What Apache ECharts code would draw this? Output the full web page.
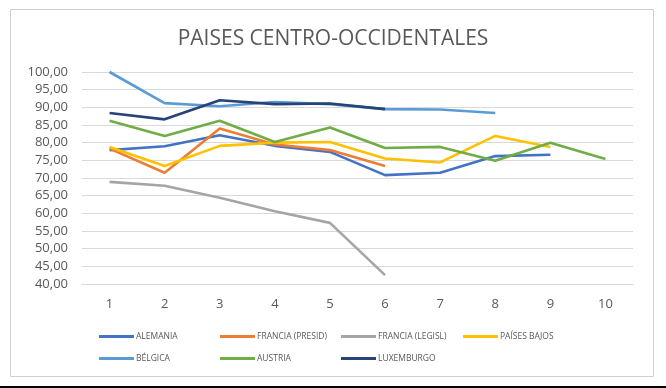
<!DOCTYPE html>
<html><head><meta charset="utf-8">
<script src="https://cdn.jsdelivr.net/npm/echarts@6/dist/echarts.min.js"></script>
<style>html,body{margin:0;padding:0;background:#fff}#c{width:666px;height:388px}</style>
</head><body><div id="c"></div>
<script>
var categories = ['1','2','3','4','5','6','7','8','9','10'];
var seriesNames = ['ALEMANIA','FRANCIA (PRESID)','FRANCIA (LEGISL)','PAÍSES BAJOS','BÉLGICA','AUSTRIA','LUXEMBURGO'];
var alemania = [77.9, 79.0, 82.1, 79.1, 77.4, 70.8, 71.5, 76.2, 76.6, null];
var franciaPresid = [78.3, 71.5, 84.0, 79.5, 77.9, 73.4, null, null, null, null];
var franciaLegisl = [68.9, 67.8, 64.4, 60.6, 57.3, 42.5, null, null, null, null];
var paisesBajos = [78.8, 73.4, 79.1, 80.0, 80.2, 75.5, 74.4, 81.9, 78.8, null];
var belgica = [100.0, 91.2, 90.3, 91.5, 90.9, 89.5, 89.4, 88.4, null, null];
var austria = [86.2, 81.9, 86.2, 80.2, 84.3, 78.5, 78.8, 74.9, 80.0, 75.4];
var luxemburgo = [88.4, 86.6, 92.0, 90.9, 91.1, 89.5, null, null, null, null];
var yTicks = {min: 40, max: 100, interval: 5};

var colors = ['#4472C4','#ED7D31','#A5A5A5','#FFC000','#5B9BD5','#70AD47','#264478'];
var dataArr = [alemania, franciaPresid, franciaLegisl, paisesBajos, belgica, austria, luxemburgo];
var legendPos = [[94,327],[215,327],[336,327],[458,327],[94,349],[215,349],[336,349]];

var chart = echarts.init(document.getElementById('c'));
var series = seriesNames.map(function(n,i){
  return {name:n, type:'line', data:dataArr[i], showSymbol:false, symbol:'none',
    lineStyle:{width:2.6, color:colors[i]}, itemStyle:{color:colors[i]}, connectNulls:false, z: (i===6?5:2)};
});
var legends = seriesNames.map(function(n,i){
  return {data:[{name:n, icon:'rect'}], left:legendPos[i][0], top:legendPos[i][1], itemWidth:35, itemHeight:3, itemGap:0,
    textStyle:{fontSize:8.5, color:'#595959', fontFamily:'Liberation Sans Narrow, Open Sans, sans-serif', padding:[0,0,0,-3]}};
});
chart.setOption({
  animation:false,
  backgroundColor:'#fff',
  title:{text:'PAISES CENTRO-OCCIDENTALES', left:'center', top:24,
    textStyle:{fontSize:21, fontWeight:'normal', color:'#595959', fontFamily:'Open Sans, sans-serif'}},
  legend: legends,
  grid:{left:82, right:33, top:72, bottom:104, containLabel:false},
  xAxis:{type:'category', data:categories, boundaryGap:true,
    axisLine:{show:true, lineStyle:{color:'#D9D9D9'}}, axisTick:{show:false},
    axisLabel:{fontSize:13, color:'#595959', margin:14, fontFamily:'Open Sans, sans-serif'}},
  yAxis:{type:'value', min:yTicks.min, max:yTicks.max, interval:yTicks.interval,
    axisLine:{show:false}, axisTick:{show:false},
    splitLine:{lineStyle:{color:'#D9D9D9', width:1}},
    axisLabel:{fontSize:13, color:'#595959', margin:14, fontFamily:'Open Sans, sans-serif',
      formatter:function(v){return v.toFixed(2).replace('.',',');}}},
  graphic:[
    {type:'rect', shape:{x:10.5, y:9.5, width:643, height:367}, style:{fill:'none', stroke:'#D0D0D0', lineWidth:1}, silent:true},
    {type:'rect', shape:{x:0, y:386, width:666, height:2}, style:{fill:'#000'}, silent:true}
  ],
  series: series
});
</script></body></html>
